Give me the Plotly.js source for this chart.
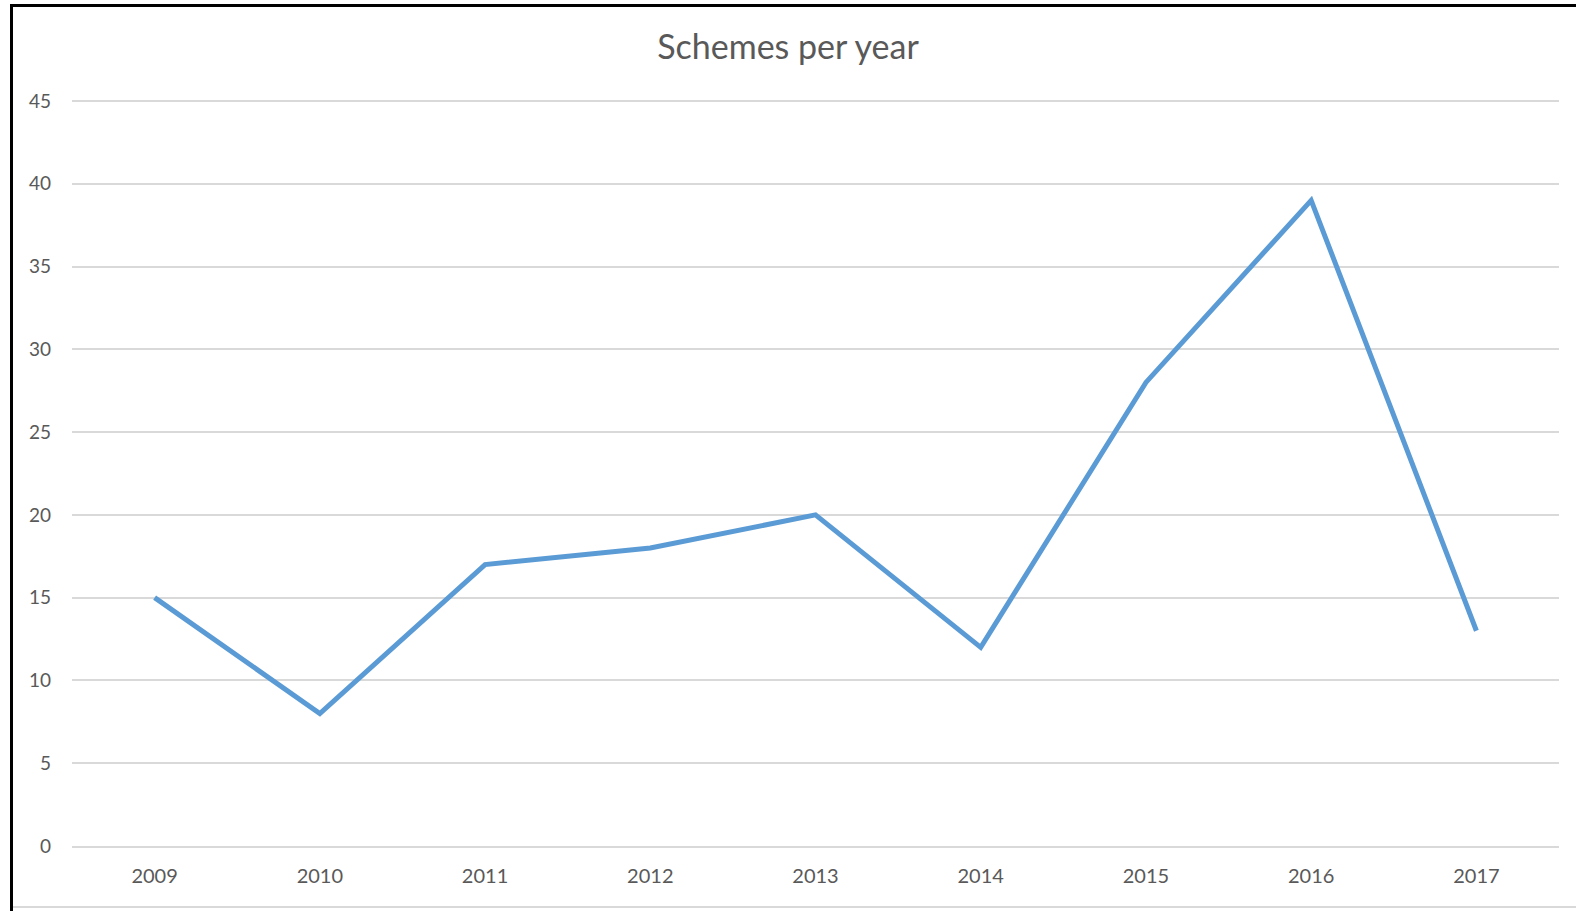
<!DOCTYPE html>
<html>
<head>
<meta charset="utf-8">
<script src="https://cdn.plot.ly/plotly-3.0.1.min.js"></script>
<style>
  html, body { margin: 0; padding: 0; background: #ffffff; }
  #wrap { position: relative; width: 1576px; height: 911px; overflow: hidden; }
  #chart { position: absolute; left: 0; top: 0; width: 1576px; height: 911px; }
  .bl { position: absolute; left: 10px; top: 4px; width: 3px; height: 907px; background: #000; }
  .bt { position: absolute; left: 10px; top: 4px; width: 1566px; height: 3px; background: #000; }
  .bb { position: absolute; left: 13px; top: 906px; width: 1563px; height: 2px; background: #d9d9d9; }
</style>
</head>
<body>
<div id="wrap">
  <div id="chart"></div>
  <div class="bl"></div>
  <div class="bt"></div>
  <div class="bb"></div>
</div>
<script>
const years = ["2009", "2010", "2011", "2012", "2013", "2014", "2015", "2016", "2017"];
const schemes = [15, 8, 17, 18, 20, 12, 28, 39, 13];
const yTicks = [0, 5, 10, 15, 20, 25, 30, 35, 40, 45];
const chartTitle = "Schemes per year";

const FONT = "Lato, 'Open Sans', sans-serif";

Plotly.newPlot("chart", [{
  type: "scatter",
  mode: "lines",
  x: years,
  y: schemes,
  line: { color: "#5B9BD5", width: 5, shape: "linear" },
  hoverinfo: "x+y"
}], {
  width: 1576,
  height: 911,
  paper_bgcolor: "#ffffff",
  plot_bgcolor: "#ffffff",
  margin: { l: 72, r: 17, t: 99, b: 65 },
  showlegend: false,
  title: {
    text: chartTitle,
    font: { family: FONT, size: 34, color: "#595959" },
    x: 0.5, xanchor: "center",
    y: 1 - 47 / 911, yanchor: "middle", yref: "container"
  },
  xaxis: {
    type: "category",
    range: [-0.5, years.length - 0.5],
    showgrid: false,
    showline: true,
    linecolor: "#d9d9d9",
    linewidth: 2,
    ticks: "",
    ticklabelstandoff: 11,
    tickfont: { family: FONT, size: 20, color: "#595959" },
    zeroline: false,
    fixedrange: true
  },
  yaxis: {
    range: [0, 45.12],
    tickvals: yTicks,
    ticktext: yTicks.map(String),
    showgrid: true,
    gridcolor: "#d9d9d9",
    gridwidth: 2,
    zeroline: false,
    showline: false,
    ticks: "",
    ticklabelstandoff: 20,
    tickfont: { family: FONT, size: 19, color: "#595959" },
    fixedrange: true
  }
}, { displayModeBar: false, staticPlot: true });
</script>
</body>
</html>
